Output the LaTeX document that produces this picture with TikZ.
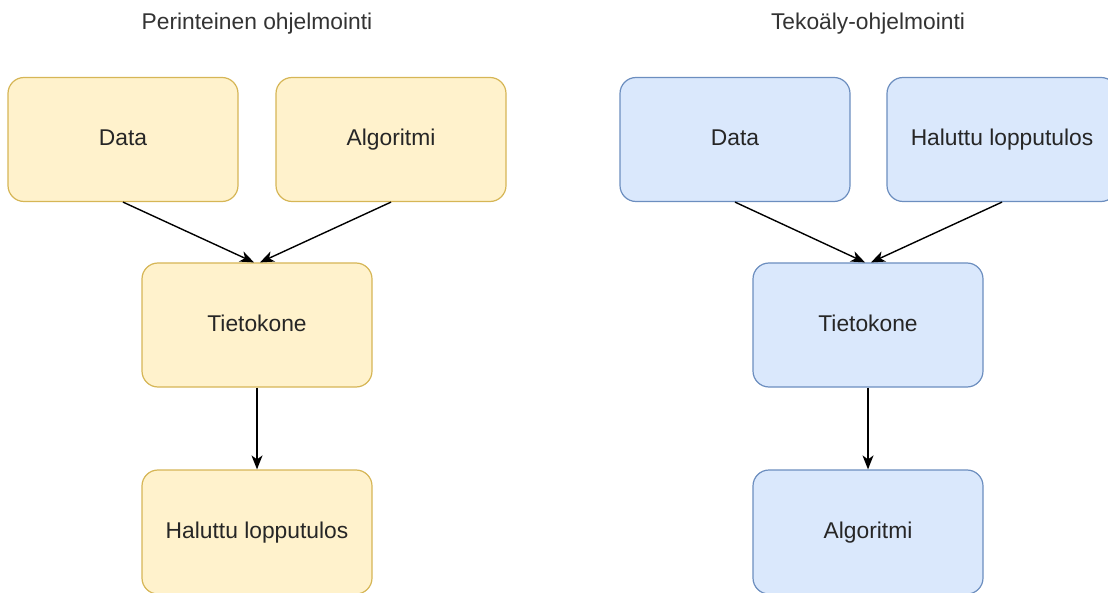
\documentclass[tikz,border=0pt]{standalone}
\usepackage{fontspec}
\setmainfont{Liberation Sans}
\usetikzlibrary{arrows.meta}

\definecolor{keltafill}{HTML}{FFF2CC}
\definecolor{keltaline}{HTML}{D6B656}
\definecolor{sinifill}{HTML}{DAE8FC}
\definecolor{siniline}{HTML}{6C8EBF}

\tikzset{
	laatikko/.style={rounded corners=16pt, line width=1.2pt, minimum width=230pt, minimum height=124pt, align=center, text=black!85, text height=1.25em, text depth=0pt, font=\fontsize{22.8}{27}\selectfont},
	keltainen/.style={laatikko, draw=keltaline, fill=keltafill},
	sininen/.style={laatikko, draw=siniline, fill=sinifill},
	otsikko/.style={text=black!80, font=\fontsize{22.8}{27}\selectfont},
	nuoli/.style={line width=1.4pt, -{Stealth[length=14pt,width=11pt,inset=4pt]}}
}

\begin{document}
\begin{tikzpicture}[x=1pt, y=-1pt]
	\useasboundingbox (0,0) rectangle (1108,593);
	\begin{scope}
	\clip (0,0) rectangle (1108,593);

	% perinteinen ohjelmointi
	\node[otsikko] (otsA) at (257, 24) {Perinteinen ohjelmointi};
	\node[keltainen] (dataA) at (123, 139.5) {Data};
	\node[keltainen] (algA) at (391, 139.5) {Algoritmi};
	\node[keltainen] (koneA) at (257, 325) {Tietokone};
	\node[keltainen] (tulosA) at (257, 532) {Haluttu lopputulos};

	\draw[nuoli] (dataA.south) -- ([xshift=-3pt]koneA.north);
	\draw[nuoli] (algA.south) -- ([xshift=3pt]koneA.north);
	\draw[nuoli] (koneA) -- (tulosA);

	% tekoäly-ohjelmointi
	\node[otsikko] (otsB) at (868, 24) {Tekoäly-ohjelmointi};
	\node[sininen] (dataB) at (735, 139.5) {Data};
	\node[sininen] (tulosB) at (1002, 139.5) {Haluttu lopputulos};
	\node[sininen] (koneB) at (868, 325) {Tietokone};
	\node[sininen] (algB) at (868, 532) {Algoritmi};

	\draw[nuoli] (dataB.south) -- ([xshift=-3pt]koneB.north);
	\draw[nuoli] (tulosB.south) -- ([xshift=3pt]koneB.north);
	\draw[nuoli] (koneB) -- (algB);
	\end{scope}
\end{tikzpicture}
\end{document}
